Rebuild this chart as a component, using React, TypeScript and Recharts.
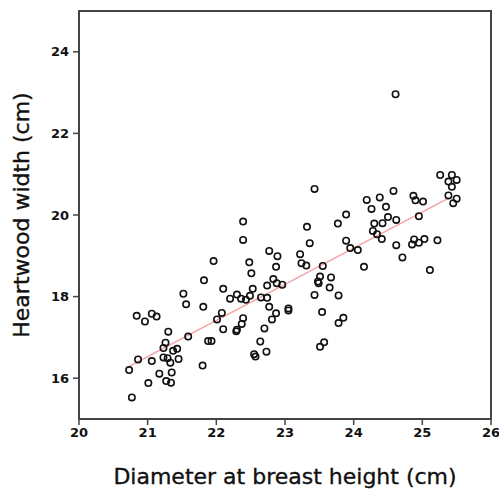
import React from 'react';
import { ScatterChart, Scatter, XAxis, YAxis, ReferenceArea, ReferenceLine, Label } from 'recharts';

const diameter = [
  20.73, 20.77, 20.86, 20.84, 20.96, 21.06, 21.13, 21.01, 21.06, 21.17,
  21.30, 21.26, 21.23, 21.37, 21.43, 21.23, 21.29, 21.33, 21.45, 21.35,
  21.27, 21.34, 21.52, 21.56, 21.81, 21.59, 21.80, 21.88, 21.93, 21.82,
  21.96, 22.01, 22.08, 22.10, 22.10, 22.20, 22.30, 22.36, 22.43, 22.49,
  22.39, 22.37, 22.30, 22.29, 22.39, 22.39, 22.48, 22.51, 22.53, 22.55,
  22.57, 22.64, 22.73, 22.70, 22.65, 22.74, 22.74, 22.77, 22.89, 22.87,
  22.83, 22.88, 22.96, 22.77, 22.87, 22.81, 23.05, 23.05, 23.22, 23.24,
  23.31, 23.32, 23.36, 23.43, 23.51, 23.48, 23.49, 23.43, 23.55, 23.67,
  23.65, 23.78, 23.54, 23.85, 23.78, 23.57, 23.51, 23.77, 23.89, 23.89,
  23.95, 24.06, 24.15, 24.19, 24.38, 24.26, 24.47, 24.58, 24.50, 24.62,
  24.30, 24.42, 24.28, 24.34, 24.41, 24.62, 24.71, 24.87, 24.90, 25.01,
  24.95, 24.88, 24.85, 24.95, 25.03, 25.22, 25.11, 25.26, 25.43, 25.38,
  25.50, 25.43, 25.38, 25.50, 25.45, 24.61,
];

const heartwood = [
  16.20, 15.53, 16.46, 17.53, 17.39, 17.58, 17.51, 15.88, 16.42, 16.11,
  17.14, 16.87, 16.74, 16.67, 16.72, 16.51, 16.49, 16.38, 16.47, 16.14,
  15.93, 15.89, 18.07, 17.81, 17.75, 17.02, 16.31, 16.91, 16.91, 18.40,
  18.87, 17.44, 17.60, 17.20, 18.19, 17.95, 18.05, 17.95, 17.92, 18.02,
  17.47, 17.33, 17.19, 17.15, 19.84, 19.39, 18.84, 18.57, 18.19, 16.59,
  16.53, 16.90, 16.65, 17.22, 17.98, 17.97, 18.27, 19.12, 18.99, 18.73,
  18.43, 18.33, 18.29, 17.75, 17.59, 17.44, 17.71, 17.66, 19.04, 18.82,
  18.76, 19.71, 19.31, 20.64, 18.49, 18.37, 18.33, 18.04, 18.75, 18.47,
  18.22, 18.03, 17.62, 17.48, 17.35, 16.88, 16.77, 19.79, 20.01, 19.37,
  19.19, 19.14, 18.73, 20.37, 20.43, 20.15, 20.20, 20.59, 19.95, 19.88,
  19.79, 19.80, 19.61, 19.53, 19.41, 19.26, 18.96, 20.47, 20.36, 20.33,
  19.97, 19.40, 19.28, 19.32, 19.41, 19.38, 18.65, 20.98, 20.98, 20.82,
  20.86, 20.69, 20.48, 20.40, 20.29, 22.96,
];

const trendX = [20.73, 25.39];
const trendY = [16.29, 20.42];

const xTicks = [20, 21, 22, 23, 24, 25, 26];
const yTicks = [16, 18, 20, 22, 24];

const data = diameter.map((d, i) => ({ x: d, y: heartwood[i] }));

const FONT = '"DejaVu Sans", Verdana, sans-serif';
const AXIS = '#444';

const Ring = (props: any) => (
  <circle cx={props.cx} cy={props.cy} r={3.2} fill="none" stroke="#111" strokeWidth={1.6} />
);

export default function App() {
  return (
    <div style={{ position: 'absolute', left: 0, top: 0, background: '#fff' }}>
      <ScatterChart width={499} height={490} margin={{ top: 11, right: 8, bottom: 0, left: 0 }}>
        <XAxis
          type="number"
          dataKey="x"
          domain={[20, 26]}
          ticks={xTicks}
          interval={0}
          height={71}
          tickSize={6}
          tickMargin={3}
          axisLine={{ stroke: AXIS, strokeWidth: 2 }}
          tickLine={{ stroke: AXIS, strokeWidth: 1.5 }}
          tick={{ fill: '#111', fontSize: 13, fontWeight: 'bold', fontFamily: FONT }}
        >
          <Label
            content={({ viewBox }: any) => (
              <text
                x={viewBox.x + viewBox.width / 2}
                y={viewBox.y + 65}
                textAnchor="middle"
                fontSize={22}
                fontFamily={FONT}
                fill="#111"
                stroke="#111"
                strokeWidth={0.35}
              >
                Diameter at breast height (cm)
              </text>
            )}
          />
        </XAxis>
        <YAxis
          type="number"
          dataKey="y"
          domain={[15, 25]}
          ticks={yTicks}
          interval={0}
          width={79}
          tickSize={6}
          tickMargin={4}
          axisLine={{ stroke: AXIS, strokeWidth: 2 }}
          tickLine={{ stroke: AXIS, strokeWidth: 1.5 }}
          tick={{ fill: '#111', fontSize: 13, fontWeight: 'bold', fontFamily: FONT }}
        >
          <Label
            content={({ viewBox }: any) => {
              const cx = viewBox.x + 21;
              const cy = viewBox.y + viewBox.height / 2;
              return (
                <text
                  x={cx}
                  y={cy}
                  transform={`rotate(-90 ${cx} ${cy})`}
                  textAnchor="middle"
                  dominantBaseline="central"
                  fontSize={22}
                  fontFamily={FONT}
                  fill="#111"
                  stroke="#111"
                  strokeWidth={0.35}
                >
                  Heartwood width (cm)
                </text>
              );
            }}
          />
        </YAxis>
        <ReferenceArea x1={20} x2={26} y1={15} y2={25} fill="none" stroke={AXIS} strokeWidth={2} />
        <ReferenceLine
          segment={[
            { x: trendX[0], y: trendY[0] },
            { x: trendX[1], y: trendY[1] },
          ]}
          stroke="#f4a3a3"
          strokeWidth={1.5}
        />
        <Scatter data={data} shape={Ring} isAnimationActive={false} />
      </ScatterChart>
    </div>
  );
}
